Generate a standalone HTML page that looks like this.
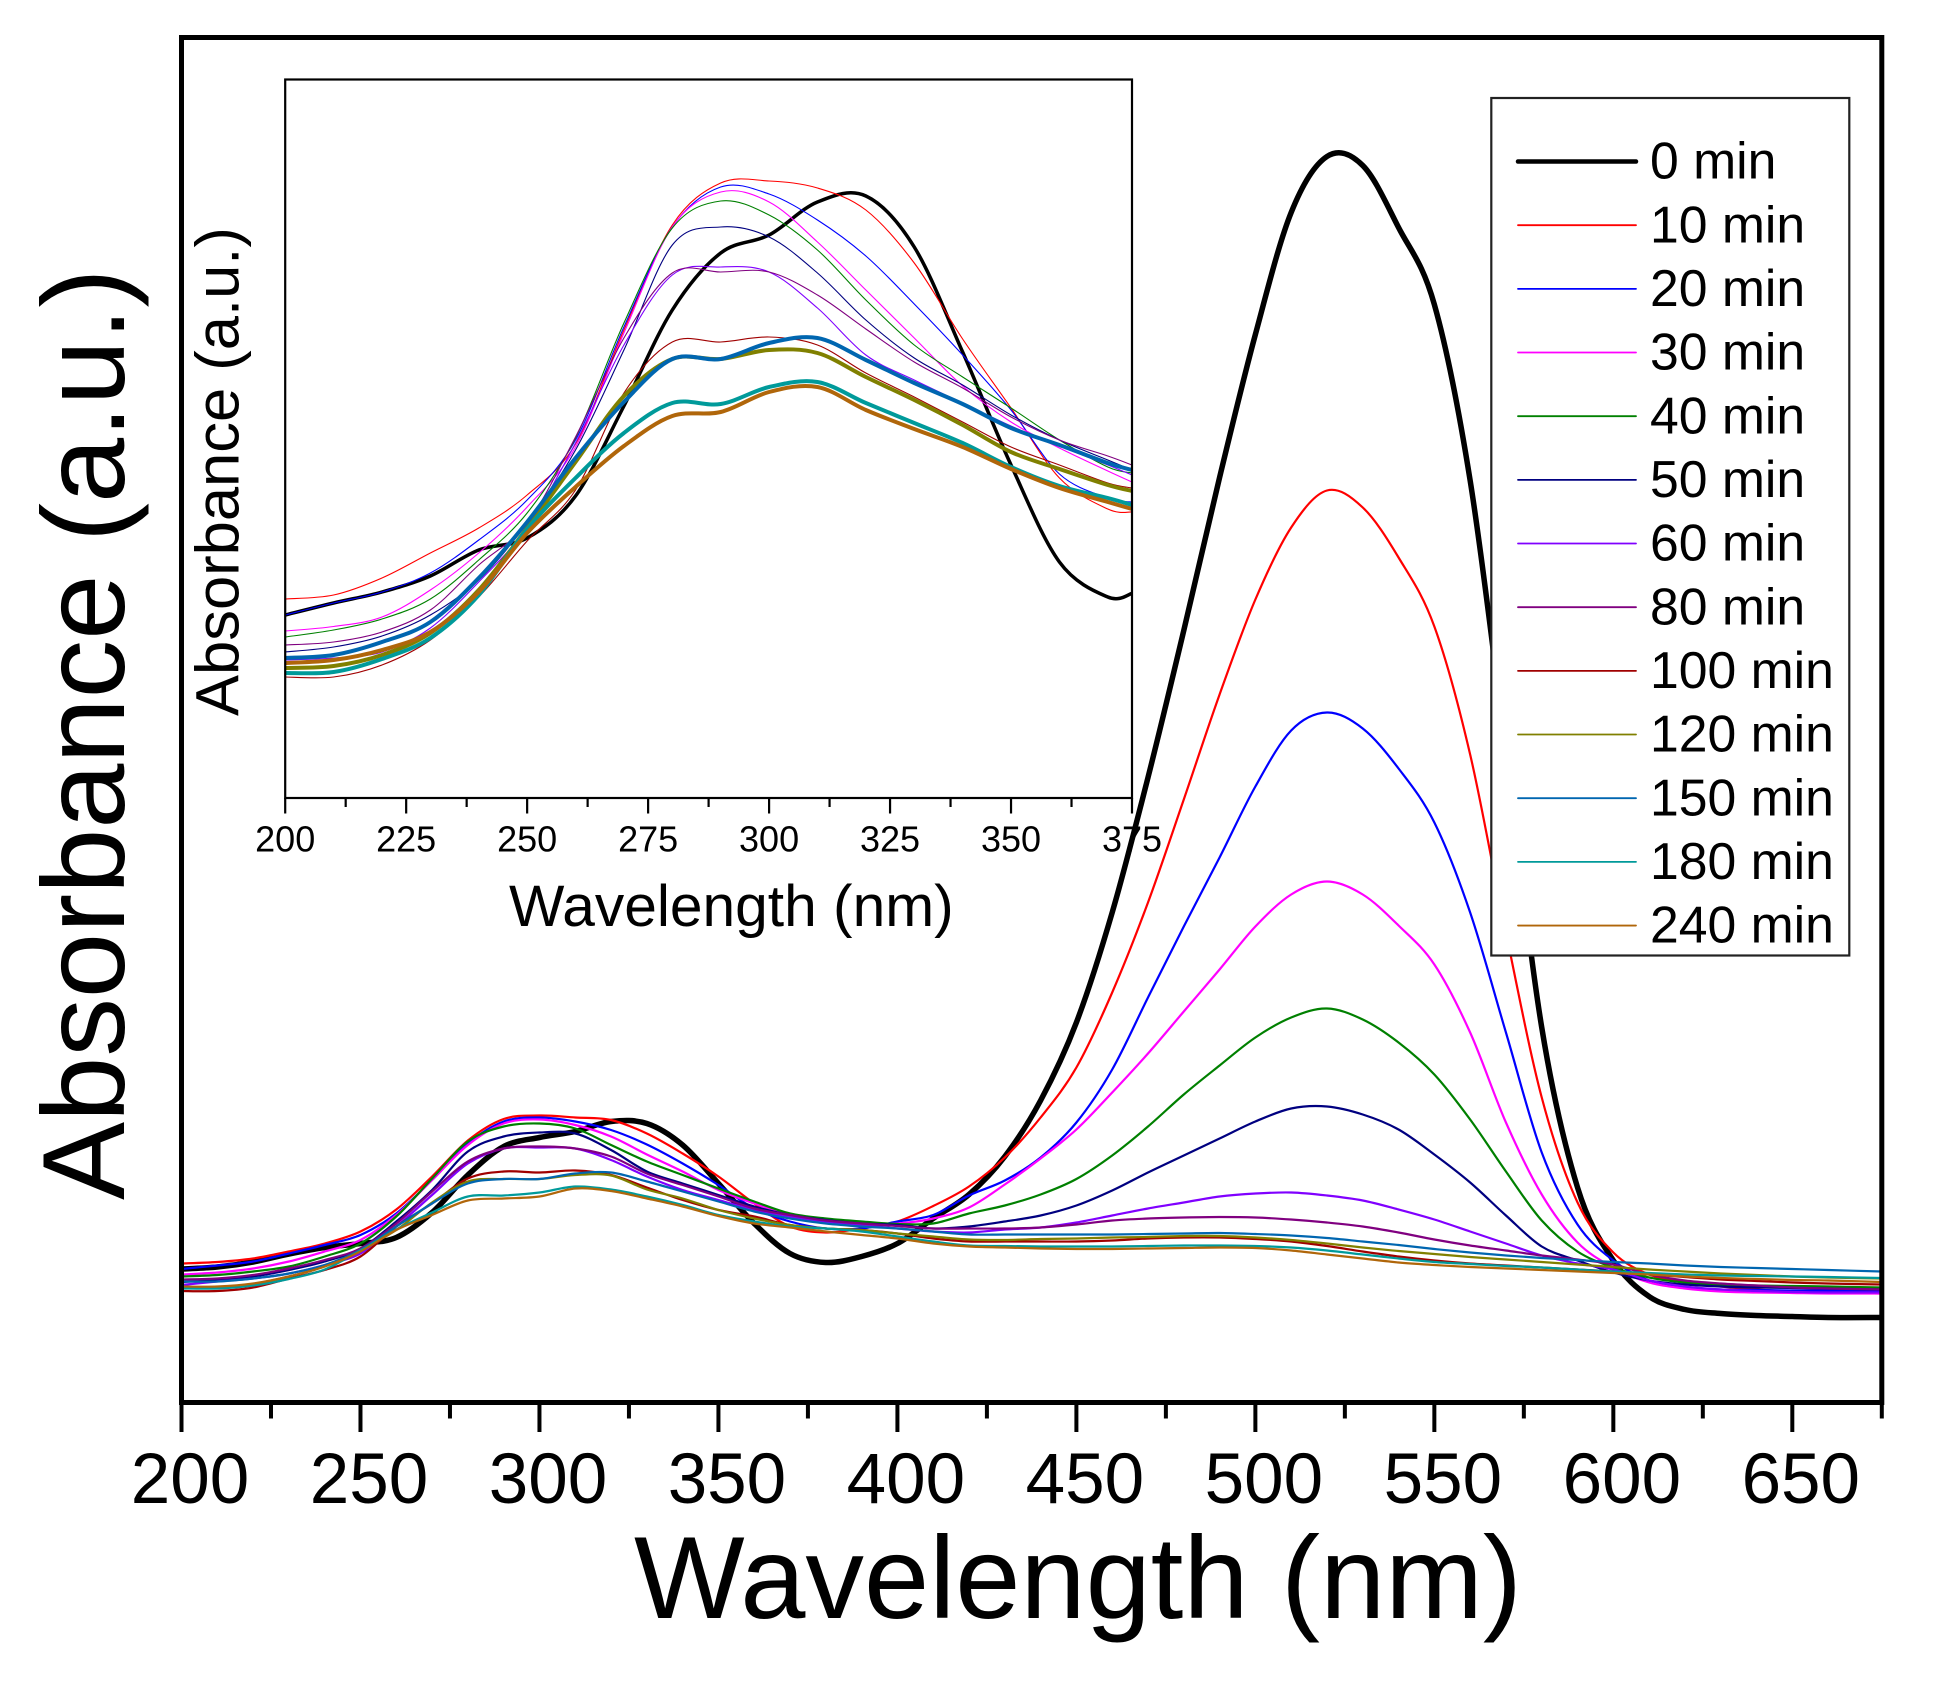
<!DOCTYPE html>
<html lang="en">
<head>
<meta charset="utf-8">
<title>Absorbance vs Wavelength</title>
<style>
html,body{margin:0;padding:0;background:#fff;}
svg{display:block;}
text{font-family:"Liberation Sans",sans-serif;fill:#000;}
</style>
</head>
<body>
<svg id="chart" xmlns="http://www.w3.org/2000/svg" width="1942" height="1685" viewBox="0 0 1942 1685">
  <rect x="0" y="0" width="1942" height="1685" fill="#fff"/>
  <g id="inset-layer"></g>
  <g id="main-layer"></g>
  <g id="legend-layer"></g>
  <text x="634" y="1618" font-size="117.2">Wavelength (nm)</text>
  <text x="124" y="1200" font-size="117.2" transform="rotate(-90 124 1200)">Absorbance (a.u.)</text>
  <text x="509" y="926" font-size="58.7">Wavelength (nm)</text>
  <text x="238.7" y="716" font-size="61.5" transform="rotate(-90 238.7 716)">Absorbance (a.u.)</text>
</svg>
<script>
// ---- Main chart data ----
const mainWavelengths = [200,210,220,230,240,250,260,270,280,290,300,310,320,330,340,350,360,370,380,390,400,410,420,430,440,450,460,470,480,490,500,510,520,530,540,550,560,570,580,590,600,610,620,630,640,650,660,675];
const main0min = [133.5,135.5,140.5,148.5,155,159,165,190,227.5,256,265,271,281,279,257.5,219,179,149,140,146,159,184,208,246,302,380,490,625,772,925,1068,1190,1246,1237,1175,1098,922,652,375,215,142,106,93,89,87,86,85,85];
const main10min = [139,140.5,144,151,159,171,193,226,262,283.5,287,285,282.5,269,249,226,199,176,170,174,181,196.5,216,245,285,335,410,500,603,708,803,875,912,895,845,776,648,470,305,200,150,128,120,116,113,111,110,109];
const main20min = [133.5,137,141,149,157.5,167.5,189,222.5,259,281,285,281,272.5,258,239,217.5,194,181,174,174,181,187.5,207,222,245,280,333,405,476,545,616,672,690,674,634,580,490,370,250,178,142,122,115,113,112.5,112,112,112];
const main30min = [128,130,134,141,151,162.5,187.5,222.5,257.5,279,283,277.5,266,248,231,212.5,199,187.5,182.5,179,179,184,195,218,244,273,310,349,391,433,476,508,521,508,477,438,370,280,208,160,135,120,114,111,110,109.5,109,109];
const main40min = [126,127.5,131,136,146,159,186,224,261,276,279,274,257.5,241,227.5,214,201,189,184,181,178.5,179,189,197,208,223.5,247,276,308,337,365,385,394,383,360,328,283,231,182,151,135,125,120,118,117,116.5,116,115];
const main50min = [120.5,122.5,126,132.5,141,154,181,212.5,251,266,270,269,252.5,231,219,207.5,196,187.5,182.5,179,177.5,174,176,181,187,197,212,230,247,264,281,294,296,288,273,248,220,187,156,142,130,122,118,116,115,114.5,114,113];
const main60min = [117.5,121,124,129,137.5,149,176,207.5,239,254,255,254,242.5,226,212.5,202.5,192.5,186,181,177.5,174,171,170,173,175,180,187,194,200,206,209,210,207,202,193,183,171,159,147,139,133,122,116,113,111.5,110.5,110,110];
const main80min = [123,124,127.5,134,142.5,154,179,211,241,254,256,254,246,229,217.5,206,194,187.5,182,179,176.5,174,174,174,175,178,182,184,185,185.5,185,183,180,176,170,163,157,152,147,143,138,128,122,119,117,115,114,113];
const main100min = [111.5,111.5,115,124,132.5,146,176,199,224,231,230,232,227.5,215,202.5,192.5,186,177.5,174,172.5,169,164,161,161,161,161,162,164,165,165,163.5,161,156.5,151,146,142,139,137,135,133,131,128,125.5,123,121.5,120,119,118];
const main120min = [115,115,118.5,126,136,152.5,172.5,200,221,223.5,223.5,227.5,227,213,204,192.5,184,177.5,174,172.5,169,166,163,162.5,163.5,164,165,165.5,166.5,166.5,165,162.5,159,155,151.5,148.5,145.5,143,140.5,138,135.5,133,131,129,127.5,126,125,124];
const main150min = [121,121,124,129,137.5,152.5,176,199,219,223.5,223.5,229,230,221,211,201,191,184,179,176,174,171,168,168,168,168,168,168.5,169,169.5,168.5,167,164.5,161,157.5,153.5,150,147,144.5,142.5,140.5,139,137,135.5,134.5,133.5,132.5,131];
const main180min = [114,114,117,123.5,133,152,173,190,206,207,210,216,213,206,197.5,187.5,181,176,174,171,166,161,157,156.5,156,156,156,156.5,157,157,156.5,155,152,148,144,140.5,138.5,136.5,135,133,131,129.5,128,127,126.5,126,125.5,124.5];
const main240min = [116,116,119,126,136,151,172.5,187.5,202,204,206,214,211.5,204,196,186.5,179,175,171,167.5,164,159,156,155,154,153.5,153.5,154,154.5,155,154.5,152,148,144,140,137.5,135.5,134,132.5,131,129.5,128,126,124.5,123.5,122.5,122,120.5];

// ---- Inset chart data ----
const insetWavelengths = [200,210,220,230,240,250,260,270,280,290,300,310,320,330,340,350,360,370,375];
const inset0min = [183,195,206,222,248,260,302,392,488,545,563,596,602,551,446,333,236,201,204.5];
const inset10min = [199,203,220,245,270,303,354,468,573,615,617,610,588,535,459,390,320,289,286];
const inset20min = [183,195,206,225,258,298,358,471,571,611,604,578,542,494,443,388,324,300,296];
const inset30min = [167,171.5,181,208,245,291,351,465,571,606,596,556,508,460,412,376,350,327,316];
const inset40min = [161,168,179,199,238,285,360,475,570,597,583,548,498,453,421,390,358,331,325];
const inset50min = [146,151,162,183,218,275,348,448,553,571,561,525,478,440,413,383,358,338,328];
const inset60min = [138,140,146,170,216,271,355,453,523,531,526,490,443,418,395,372,352,333,323];
const inset80min = [153,156,166,188,233,275,361,460,525,526,526,503,469,436,410,381,358,342,333];
const inset100min = [121,121,133,158,201,257,308,405,456,456,461,453,425,401,376,351,333,315,310];
const inset120min = [130,132,143,165,208,270,336,402,439,439,448,445,421,398,373,346,329,313,307];
const inset150min = [140,143,156,176,220,276,340,396,439,439,455,460,438,415,394,370,353,335,328];
const inset180min = [125,126,139,160,203,269,320,365,395,394,411,416,395,375,355,331,312,300,293];
const inset240min = [135,138,148,166,206,265,311,352,382,386,406,411,388,369,351,329,310,296,289];

// ---- Categories and tick labels ----
const seriesLabels = ["0 min","10 min","20 min","30 min","40 min","50 min","60 min","80 min","100 min","120 min","150 min","180 min","240 min"];
const mainMajorTicks = [200,250,300,350,400,450,500,550,600,650];
const mainMinorTicks = [225,275,325,375,425,475,525,575,625,675];
const insetMajorTicks = [200,225,250,275,300,325,350,375];
const insetMinorTicks = [212.5,237.5,262.5,287.5,312.5,337.5,362.5];

const mainSeries = [main0min,main10min,main20min,main30min,main40min,main50min,main60min,main80min,main100min,main120min,main150min,main180min,main240min];
const insetSeries = [inset0min,inset10min,inset20min,inset30min,inset40min,inset50min,inset60min,inset80min,inset100min,inset120min,inset150min,inset180min,inset240min];

// ---- Styles ----
const seriesColors = ["#000000","#ff0000","#0000ff","#ff00ff","#008000","#000080","#8000ff","#800080","#a00000","#808000","#0066b0","#009a9a","#b0660a"];
const mainWidths = [5.5,2.2,2.2,2.2,2.2,2.2,2.2,2.2,2.2,2.2,2.2,2.2,2.2];
const insetWidths = [3.5,1.1,1.1,1.1,1.1,1.1,1.1,1.1,1.1,4,4,4,4];

// ---- Axis functions ----
function linear(d0, d1, r0, r1) { return v => r0 + (v - d0) * (r1 - r0) / (d1 - d0); }
const mainX = linear(200, 675, 181.5, 1881.8);
const mainY = linear(0, 1365, 1402.5, 37.5);
const insetX = linear(200, 375, 285.2, 1132);
const insetY = linear(0, 718.5, 798, 79.5);

const NS = "http://www.w3.org/2000/svg";
function make(tag, parent, attrs) {
  const el = document.createElementNS(NS, tag);
  for (const k in attrs) el.setAttribute(k, attrs[k]);
  parent.appendChild(el);
  return el;
}
function smoothPath(xs, ys, xf, yf) {
  const p = xs.map((x, i) => [xf(x), yf(ys[i])]);
  let d = "M" + p[0][0].toFixed(2) + " " + p[0][1].toFixed(2);
  for (let i = 0; i < p.length - 1; i++) {
    const a = p[Math.max(i - 1, 0)], b = p[i], c = p[i + 1], e = p[Math.min(i + 2, p.length - 1)];
    const c1x = b[0] + (c[0] - a[0]) / 6, c1y = b[1] + (c[1] - a[1]) / 6;
    const c2x = c[0] - (e[0] - b[0]) / 6, c2y = c[1] - (e[1] - b[1]) / 6;
    d += "C" + c1x.toFixed(2) + " " + c1y.toFixed(2) + " " + c2x.toFixed(2) + " " + c2y.toFixed(2) + " " + c[0].toFixed(2) + " " + c[1].toFixed(2);
  }
  return d;
}
function slug(s) { return s.replace(/\s+/g, "-"); }

// ---- Inset ----
const inset = document.getElementById("inset-layer");
insetSeries.forEach((vals, i) => {
  const line = make("path", inset, {d: smoothPath(insetWavelengths, vals, insetX, insetY), fill: "none", stroke: seriesColors[i], "stroke-width": insetWidths[i], "stroke-linejoin": "round"});
  
  
});
const insetFrame = make("rect", inset, {x: insetX(200), y: insetY(718.5), width: insetX(375) - insetX(200), height: insetY(0) - insetY(718.5), fill: "none", stroke: "#000", "stroke-width": 2.2});


insetMajorTicks.forEach(t => {
  const tick = make("line", inset, {x1: insetX(t), x2: insetX(t), y1: insetY(0), y2: insetY(0) + 15.5, stroke: "#000", "stroke-width": 2.2});
  
  
  const label = make("text", inset, {x: insetX(t), y: 851.7, "font-size": 36, "text-anchor": "middle"});
  label.textContent = String(t);
  
  
});
insetMinorTicks.forEach(t => {
  const tick = make("line", inset, {x1: insetX(t), x2: insetX(t), y1: insetY(0), y2: insetY(0) + 9, stroke: "#000", "stroke-width": 2.2});
  
  
});

// ---- Main plot ----
const main = document.getElementById("main-layer");
mainSeries.forEach((vals, i) => {
  const line = make("path", main, {d: smoothPath(mainWavelengths, vals, mainX, mainY), fill: "none", stroke: seriesColors[i], "stroke-width": mainWidths[i], "stroke-linejoin": "round"});
  
  
});
const mainFrame = make("rect", main, {x: mainX(200), y: mainY(1365), width: mainX(675) - mainX(200), height: mainY(0) - mainY(1365), fill: "none", stroke: "#000", "stroke-width": 5});


mainMajorTicks.forEach(t => {
  const tick = make("line", main, {x1: mainX(t), x2: mainX(t), y1: mainY(0), y2: mainY(0) + 29.5, stroke: "#000", "stroke-width": 4});
  
  
  const label = make("text", main, {x: mainX(t) + 8.5, y: 1503, "font-size": 71, "text-anchor": "middle"});
  label.textContent = String(t);
  
  
});
mainMinorTicks.forEach(t => {
  const tick = make("line", main, {x1: mainX(t), x2: mainX(t), y1: mainY(0), y2: mainY(0) + 16, stroke: "#000", "stroke-width": 4});
  
  
});

// ---- Legend ----
const legend = document.getElementById("legend-layer");
const legendBox = make("rect", legend, {x: 1491.3, y: 98, width: 358, height: 857.5, fill: "#fff", stroke: "#222", "stroke-width": 2.2});


seriesLabels.forEach((name, i) => {
  const cy = 161.5 + i * 63.67;
  const swatch = make("line", legend, {x1: 1518, x2: 1636, y1: cy, y2: cy, stroke: seriesColors[i], "stroke-width": i === 0 ? 4.5 : 1.8, "stroke-linecap": "round"});
  
  
  const label = make("text", legend, {x: 1650, y: cy + 17.2, "font-size": 51.7});
  label.textContent = name;
  
  
});
</script>
</body>
</html>
